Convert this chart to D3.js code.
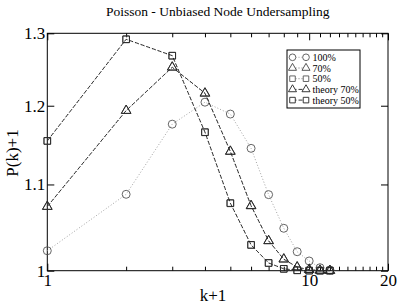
<!DOCTYPE html>
<html>
<head>
<meta charset="utf-8">
<script src="https://cdn.jsdelivr.net/npm/d3@7"></script>
<style>
  body { margin: 0; background: #fff; }
  svg { display: block; font-family: "Liberation Serif", "DejaVu Serif", serif; }
</style>
</head>
<body>
<div id="chart"></div>
<script>
// k+1 values and P(k)+1
const kValues = [1, 2, 3, 4, 5, 6, 7, 8, 9, 10, 11, 12];
const p100 = [1.0223, 1.0881, 1.1758, 1.2047, 1.1890, 1.1448, 1.0877, 1.0480, 1.0212, 1.0108, 1.0033, 1.0008];
const p70 = [1.0733, 1.1934, 1.2519, 1.2163, 1.1406, 1.0741, 1.0334, 1.0127, 1.0038, 1.0010, 1.0003, 1.0000];
const p50 = [1.1541, 1.2913, 1.2681, 1.1652, 1.0773, 1.0288, 1.0085, 1.0020, 1.0004, 1.0001, 1.0000, 1.0000];
const theory70 = [1.0735, 1.1936, 1.2522, 1.2168, 1.1410, 1.0745, 1.0336, 1.0128, 1.0040, 1.0011, 1.0003, 1.0001];
const theory50 = [1.1543, 1.2915, 1.2683, 1.1655, 1.0776, 1.0290, 1.0086, 1.0021, 1.0005, 1.0001, 1.0000, 1.0000];
const xTicks = [1, 10, 20];
const xMinorTicks = [2, 3, 4, 5, 6, 7, 8, 9, 11, 12, 13, 14, 15, 16, 17, 18, 19];
const yTicks = [1, 1.1, 1.2, 1.3];

const series = [
  { name: `100%`, values: p100, shape: `circle`, stroke: `#999`, dash: `1,2`, mark: `#555` },
  { name: `70%`, values: p70, shape: `triangle`, stroke: `#666`, dash: `1,2`, mark: `#444` },
  { name: `50%`, values: p50, shape: `square`, stroke: `#777`, dash: `1,2`, mark: `#555` },
  { name: `theory 70%`, values: theory70, shape: `triangle`, stroke: `#222`, dash: `4,2`, mark: `#222` },
  { name: `theory 50%`, values: theory50, shape: `square`, stroke: `#222`, dash: `4,2`, mark: `#222` }
];

const width = 398;
const height = 306;
const margin = { top: 33.3, right: 10, bottom: 35.3, left: 47.3 };
const serif = `"Liberation Serif", "DejaVu Serif", serif`;

const svg = d3.select(`#chart`).append(`svg`)
    .attr(`width`, width)
    .attr(`height`, height);

const x = d3.scaleLog().domain([1, 20]).range([margin.left, width - margin.right]);
const y = d3.scaleLog().domain([1, 1.3]).range([height - margin.bottom, margin.top]);

const symbolType = { circle: d3.symbolCircle, square: d3.symbolSquare, triangle: d3.symbolTriangle };
const symbolSize = { circle: 50, square: 44, triangle: 40 };
const symbol = (shape, k = 1) => d3.symbol().type(symbolType[shape]).size(symbolSize[shape] * k)();

// title
svg.append(`text`)
    .attr(`x`, (x.range()[0] + x.range()[1]) / 2)
    .attr(`y`, 16)
    .attr(`text-anchor`, `middle`)
    .style(`font-size`, `13.5px`)
    .text(`Poisson - Unbiased Node Undersampling`);

// axes, ticks pointing inward
const fmt = (d) => d3.format(`~g`)(d);
const gx = svg.append(`g`)
    .attr(`transform`, `translate(0,${y.range()[0]})`)
    .call(d3.axisBottom(x).tickValues(xTicks).tickFormat(fmt).tickSizeInner(-7).tickSizeOuter(0).tickPadding(3));
svg.append(`g`)
    .attr(`transform`, `translate(0,${y.range()[0]})`)
    .call(d3.axisBottom(x).tickValues(xMinorTicks).tickFormat(``).tickSizeInner(-4).tickSizeOuter(0));
svg.append(`g`)
    .attr(`transform`, `translate(0,${y.range()[1]})`)
    .call(d3.axisTop(x).tickValues(xTicks).tickFormat(``).tickSizeInner(-7).tickSizeOuter(0));
svg.append(`g`)
    .attr(`transform`, `translate(0,${y.range()[1]})`)
    .call(d3.axisTop(x).tickValues(xMinorTicks).tickFormat(``).tickSizeInner(-4).tickSizeOuter(0));
const gy = svg.append(`g`)
    .attr(`transform`, `translate(${x.range()[0]},0)`)
    .call(d3.axisLeft(y).tickValues(yTicks).tickFormat(fmt).tickSizeInner(-7).tickSizeOuter(0).tickPadding(2));
svg.append(`g`)
    .attr(`transform`, `translate(${x.range()[1]},0)`)
    .call(d3.axisRight(y).tickValues(yTicks).tickFormat(``).tickSizeInner(-7).tickSizeOuter(0));

svg.selectAll(`.domain`).remove();
svg.selectAll(`.tick line`).attr(`stroke`, `#000`);
[gx, gy].forEach((g) => {
  g.attr(`font-family`, serif).attr(`font-size`, 17);
  g.selectAll(`text`).attr(`fill`, `#000`);
});

// frame
svg.append(`rect`)
    .attr(`x`, x.range()[0])
    .attr(`y`, y.range()[1])
    .attr(`width`, x.range()[1] - x.range()[0])
    .attr(`height`, y.range()[0] - y.range()[1])
    .attr(`fill`, `none`)
    .attr(`stroke`, `#000`)
    .attr(`stroke-width`, 1);

// axis titles
svg.append(`text`)
    .attr(`x`, 213)
    .attr(`y`, 301)
    .attr(`text-anchor`, `middle`)
    .style(`font-size`, `17px`)
    .text(`k+1`);
svg.append(`text`)
    .attr(`transform`, `translate(18,153) rotate(-90)`)
    .attr(`text-anchor`, `middle`)
    .style(`font-size`, `17px`)
    .text(`P(k)+1`);

// lines and markers
const line = d3.line()
    .x((d, i) => x(kValues[i]))
    .y((d) => y(d));

series.forEach((s) => {
  svg.append(`path`)
      .datum(s.values)
      .attr(`d`, line)
      .attr(`fill`, `none`)
      .attr(`stroke`, s.stroke)
      .attr(`stroke-width`, 0.9)
      .attr(`stroke-dasharray`, s.dash);

  svg.selectAll(null)
      .data(s.values)
    .enter().append(`path`)
      .attr(`d`, symbol(s.shape))
      .attr(`transform`, (d, i) => `translate(${x(kValues[i])},${y(d)})`)
      .attr(`fill`, `none`)
      .attr(`stroke`, s.mark)
      .attr(`stroke-width`, 0.9);
});

// legend
const legend = svg.append(`g`).attr(`transform`, `translate(287,50)`);
legend.append(`rect`)
    .attr(`width`, 73)
    .attr(`height`, 58)
    .attr(`fill`, `#fff`)
    .attr(`stroke`, `#000`)
    .attr(`stroke-width`, 1);

const rows = legend.selectAll(`g.row`)
    .data(series)
  .enter().append(`g`)
    .attr(`class`, `row`)
    .attr(`transform`, (d, i) => `translate(0,${7.3 + i * 10.7})`);

rows.append(`line`)
    .attr(`x1`, 5.5)
    .attr(`x2`, 19)
    .attr(`stroke`, (d) => d.stroke)
    .attr(`stroke-width`, 0.9)
    .attr(`stroke-dasharray`, (d) => d.dash);
rows.append(`path`)
    .attr(`d`, (d) => symbol(d.shape, 0.7))
    .attr(`transform`, `translate(5.5,0)`)
    .attr(`fill`, `#fff`)
    .attr(`stroke`, (d) => d.mark)
    .attr(`stroke-width`, 0.9);
rows.append(`path`)
    .attr(`d`, (d) => symbol(d.shape, 0.7))
    .attr(`transform`, `translate(19,0)`)
    .attr(`fill`, `#fff`)
    .attr(`stroke`, (d) => d.mark)
    .attr(`stroke-width`, 0.9);
rows.append(`text`)
    .attr(`x`, 25.5)
    .attr(`y`, 3.5)
    .style(`font-size`, `10px`)
    .text((d) => d.name);
</script>
</body>
</html>
